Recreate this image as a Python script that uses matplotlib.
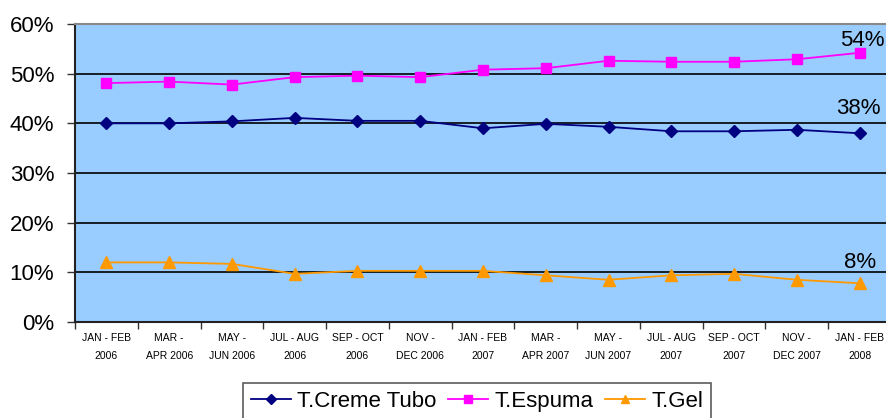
import matplotlib
matplotlib.use("Agg")
import matplotlib.pyplot as plt
import numpy as np
from matplotlib.ticker import FixedLocator, PercentFormatter

# categories (two-line period labels)
periods = [
    "JAN - FEB\n2006", "MAR -\nAPR 2006", "MAY -\nJUN 2006", "JUL - AUG\n2006",
    "SEP - OCT\n2006", "NOV -\nDEC 2006", "JAN - FEB\n2007", "MAR -\nAPR 2007",
    "MAY -\nJUN 2007", "JUL - AUG\n2007", "SEP - OCT\n2007", "NOV -\nDEC 2007",
    "JAN - FEB\n2008",
]

# series values in percent
creme_tubo = [40.0, 40.0, 40.4, 41.1, 40.5, 40.5, 39.0, 39.9, 39.3, 38.4, 38.4, 38.7, 38.0]
espuma = [48.1, 48.4, 47.8, 49.3, 49.6, 49.3, 50.8, 51.1, 52.6, 52.4, 52.4, 52.9, 54.2]
gel = [12.0, 12.0, 11.7, 9.7, 10.3, 10.3, 10.3, 9.4, 8.5, 9.4, 9.7, 8.5, 7.8]

series_names = ["T.Creme Tubo", "T.Espuma", "T.Gel"]

W, H = 887, 418
fig = plt.figure(figsize=(W / 100, H / 100), dpi=100)
ax = fig.add_axes([75 / W, 1 - 322 / H, 816 / W, 298 / H])
ax.set_facecolor("#99CCFF")

x = np.arange(len(periods))
lines = []
lines += ax.plot(x, creme_tubo, color="#000080", marker="D", markersize=6, lw=1.3,
                 label=series_names[0])
lines += ax.plot(x, espuma, color="#FF00FF", marker="s", markersize=7, lw=1.3,
                 label=series_names[1])
lines += ax.plot(x, gel, color="#FF9900", marker="^", markersize=8, lw=1.3,
                 label=series_names[2])

ax.set_xlim(-0.5, len(periods) - 0.5)
ax.set_ylim(0, 60)
ax.set_yticks(np.arange(0, 61, 10))
ax.yaxis.set_major_formatter(PercentFormatter(decimals=0))
ax.yaxis.grid(True, color="black", lw=1.2)
ax.set_axisbelow(True)

# x ticks: marks between categories, labels centred on categories
ax.set_xticks(x)
ax.set_xticklabels(periods, family=["Liberation Sans Narrow", "Liberation Sans", "DejaVu Sans"],
                   fontsize=7.5, linespacing=2.0)
ax.xaxis.set_minor_locator(FixedLocator(np.arange(-0.5, len(periods), 1.0)))
ax.tick_params(axis="x", which="major", length=0, pad=8)
ax.tick_params(axis="x", which="minor", length=5, width=1, color="#333333", direction="out")
ax.tick_params(axis="y", length=6, width=1, color="#333333", direction="out",
               labelsize=16, pad=9)
for lab in ax.get_yticklabels():
    lab.set_family(["Liberation Sans", "DejaVu Sans"])

for side in ["left", "bottom"]:
    ax.spines[side].set_color("#222222")
    ax.spines[side].set_linewidth(1.5)
ax.spines["top"].set_color("#888888")
ax.spines["top"].set_linewidth(1.5)
ax.spines["right"].set_visible(False)

# end-value labels
end_pos = [(12.33, 41.9), (12.4, 55.5), (12.27, 10.9)]
for vals, (lx, ly) in zip([creme_tubo, espuma, gel], end_pos):
    ax.text(lx, ly, f"{round(vals[-1])}%", ha="right", va="baseline", fontsize=16,
            family=["Liberation Sans", "DejaVu Sans"], clip_on=False)

leg = fig.legend(handles=lines, loc="upper center", bbox_to_anchor=(477 / W, 1 - 383 / H),
                 ncol=3, frameon=True, fancybox=False, edgecolor="#333333",
                 prop={"family": ["Liberation Sans", "DejaVu Sans"], "size": 16},
                 handlelength=1.8, handletextpad=0.3, columnspacing=0.5,
                 borderpad=0.35, borderaxespad=0, markerscale=0.8)
leg.get_frame().set_linewidth(1.2)

fig.savefig("out.png", dpi=100)
